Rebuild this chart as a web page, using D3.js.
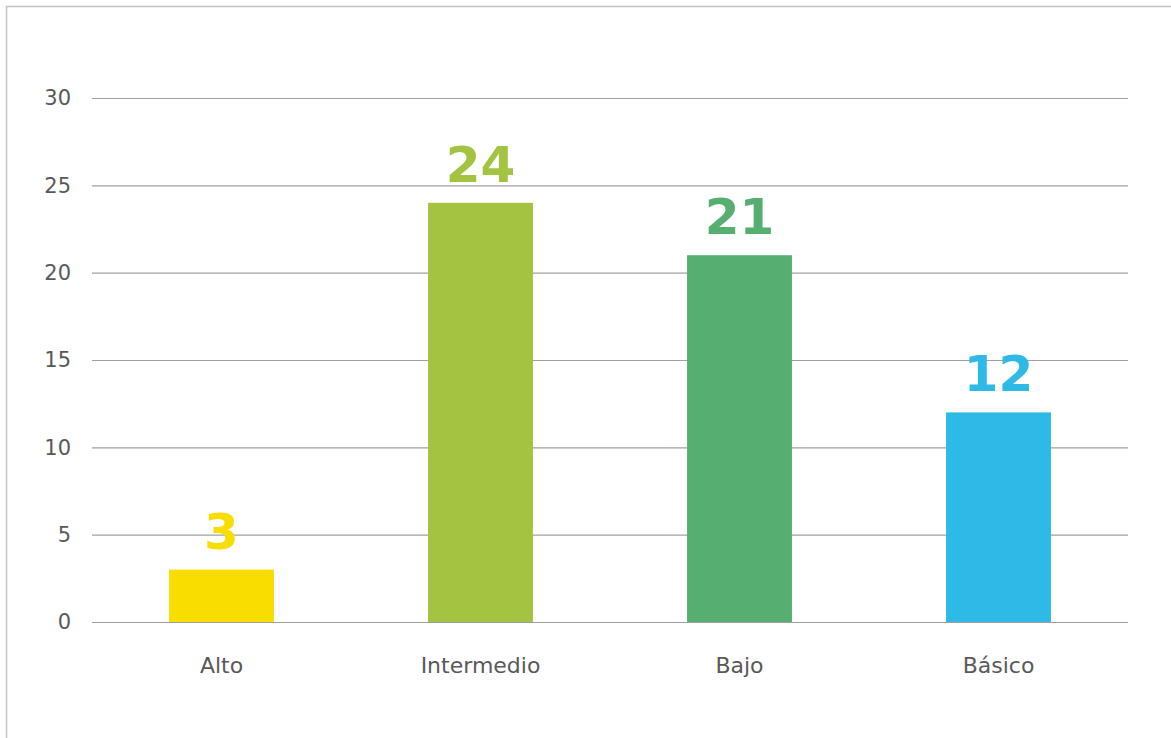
<!DOCTYPE html>
<html>
<head>
<meta charset="utf-8">
<script src="https://cdn.jsdelivr.net/npm/d3@7"></script>
<style>
  html, body { margin: 0; padding: 0; background: #fff; }
  svg { display: block; }
</style>
</head>
<body>
<svg id="chart" width="1171" height="738"></svg>
<script>
// Chart data
const categories = ["Alto", "Intermedio", "Bajo", "Básico"];
const values = [3, 24, 21, 12];
const barColors = ["#F9DD00", "#A4C441", "#56AF71", "#2EB9E7"];
const yTicks = [0, 5, 10, 15, 20, 25, 30];

const svg = d3.select("#chart");
const W = 1171, H = 738;

// Outer frame (left and top edges visible)
svg.append("rect")
  .attr("x", 6.5).attr("y", 6.5)
  .attr("width", W + 10).attr("height", H + 10)
  .attr("fill", "none")
  .attr("stroke", "#c4c4c4")
  .attr("stroke-width", 1.5);

const plot = { left: 92, right: 1128, top: 98, bottom: 622 };

const x = d3.scaleBand()
  .domain(categories)
  .range([plot.left, plot.right])
  .paddingInner(0.595)
  .paddingOuter(0.2975);

const y = d3.scaleLinear()
  .domain([0, 30])
  .range([plot.bottom, plot.top]);

const font = "'DejaVu Sans', 'Noto Sans', sans-serif";

// Horizontal gridlines and y labels
const yAxis = d3.axisLeft(y)
  .tickValues(yTicks)
  .tickSize(-(plot.right - plot.left))
  .tickPadding(21);

const gy = svg.append("g")
  .attr("transform", `translate(${plot.left},0)`)
  .call(yAxis);
gy.select(".domain").remove();
gy.selectAll(".tick line")
  .attr("stroke", "#a0a0a0")
  .attr("stroke-width", 1.2);
gy.selectAll(".tick text")
  .attr("fill", "#595959")
  .style("font-family", font)
  .style("font-size", "21px");

// Category labels
const xAxis = d3.axisBottom(x).tickSize(0).tickPadding(35);
const gx = svg.append("g")
  .attr("transform", `translate(0,${plot.bottom})`)
  .call(xAxis);
gx.select(".domain").remove();
gx.selectAll(".tick text")
  .attr("fill", "#595959")
  .style("font-family", font)
  .style("font-size", "22px");

// Bars
svg.append("g").selectAll("rect")
  .data(categories)
  .join("rect")
  .attr("x", d => x(d))
  .attr("width", x.bandwidth())
  .attr("y", (d, i) => y(values[i]))
  .attr("height", (d, i) => y(0) - y(values[i]))
  .attr("fill", (d, i) => barColors[i]);

// Value labels above bars
svg.append("g").selectAll("text")
  .data(categories)
  .join("text")
  .attr("x", d => x(d) + x.bandwidth() / 2)
  .attr("y", (d, i) => y(values[i]) - 21)
  .attr("text-anchor", "middle")
  .attr("fill", (d, i) => barColors[i])
  .style("font-family", font)
  .style("font-weight", "bold")
  .style("font-size", "50px")
  .text((d, i) => values[i]);
</script>
</body>
</html>
